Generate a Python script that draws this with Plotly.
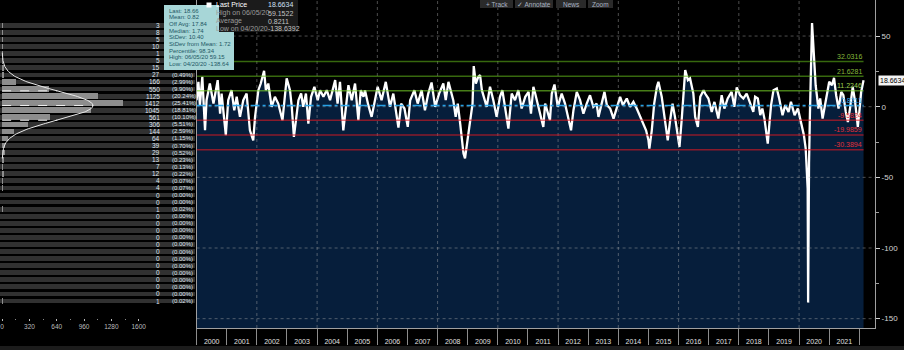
import numpy as np
import plotly.graph_objects as go

W, H = 904, 350
FONT = "Liberation Sans, Arial, sans-serif"

# ---------------- data ----------------
# time series: decimal year, value
T = [2000.00, 2000.06, 2000.11, 2000.19, 2000.28, 2000.33, 2000.44, 2000.56, 2000.70, 2000.78,
     2000.83, 2000.97, 2001.05, 2001.16, 2001.25, 2001.33, 2001.44, 2001.55, 2001.66, 2001.72,
     2001.77, 2001.88, 2001.94, 2002.05, 2002.13, 2002.24, 2002.30, 2002.38, 2002.49, 2002.60,
     2002.71, 2002.85, 2002.91, 2002.99, 2003.10, 2003.16, 2003.23, 2003.30, 2003.38, 2003.47,
     2003.54, 2003.63, 2003.71, 2003.80, 2003.91, 2004.02, 2004.10, 2004.21, 2004.32, 2004.43,
     2004.54, 2004.60, 2004.68, 2004.76, 2004.87, 2004.95, 2005.04, 2005.15, 2005.26, 2005.37,
     2005.45, 2005.54,
     2005.59, 2005.70, 2005.81, 2006.01, 2006.14, 2006.28, 2006.42, 2006.53, 2006.70, 2006.79,
     2006.90, 2007.01, 2007.09, 2007.23, 2007.34, 2007.47, 2007.58, 2007.69, 2007.80, 2007.92,
     2008.05, 2008.19, 2008.27, 2008.36, 2008.45, 2008.52, 2008.60, 2008.67, 2008.75, 2008.80,
     2008.86, 2008.91, 2008.97, 2009.05, 2009.11, 2009.16, 2009.20, 2009.27, 2009.35, 2009.41,
     2009.47, 2009.54, 2009.63, 2009.74, 2009.85, 2009.96, 2010.07, 2010.15, 2010.30, 2010.35,
     2010.46, 2010.57, 2010.68, 2010.79, 2010.91, 2011.02, 2011.10, 2011.18,
     2011.24, 2011.35, 2011.51, 2011.57, 2011.73, 2011.79, 2011.88, 2011.99, 2012.12, 2012.23,
     2012.34, 2012.43, 2012.51, 2012.62, 2012.73, 2012.84, 2012.95, 2013.06, 2013.17, 2013.28,
     2013.34, 2013.45, 2013.54, 2013.62, 2013.73, 2013.84, 2013.95, 2014.06, 2014.15, 2014.28,
     2014.39, 2014.50, 2014.61, 2014.72, 2014.83, 2014.92, 2015.00, 2015.03, 2015.11, 2015.19,
     2015.28, 2015.33, 2015.44, 2015.53, 2015.64, 2015.72, 2015.80, 2015.88, 2015.94, 2016.03,
     2016.11, 2016.22, 2016.31, 2016.38, 2016.49, 2016.55, 2016.64, 2016.72, 2016.83,
     2016.88, 2016.99, 2017.10, 2017.19, 2017.32, 2017.43, 2017.52, 2017.63, 2017.76, 2017.85,
     2017.93, 2018.04, 2018.15, 2018.26, 2018.37, 2018.48, 2018.54, 2018.63, 2018.71, 2018.78,
     2018.85, 2018.90, 2018.96, 2019.02, 2019.07, 2019.15, 2019.26, 2019.34, 2019.45, 2019.54,
     2019.65, 2019.73, 2019.85, 2019.96, 2020.09, 2020.16, 2020.22, 2020.25, 2020.27, 2020.285,
     2020.30, 2020.315, 2020.33, 2020.36, 2020.40, 2020.43, 2020.45, 2020.48, 2020.51, 2020.55,
     2020.59, 2020.64, 2020.70, 2020.78, 2020.84, 2020.92, 2021.00, 2021.09, 2021.16, 2021.23,
     2021.31, 2021.40, 2021.47, 2021.55, 2021.62, 2021.69, 2021.78, 2021.86, 2021.95, 2022.00,
     2022.06, 2022.14]
V = [4.6, 17.6, 1.1, 21.1, -16.7, 4.6, 16.4, 2.2, 18.8, -4.9,
     9.3, -20.2, 4.6, 11.7, -2.5, 7.0, -7.2, 4.6, 9.3, -2.5,
     -16.7, -23.8, -7.2, 11.7, 16.4, 25.4, 11.7, 16.4, -0.1, 7.0,
     2.2, -9.6, 4.6, 20.0, 11.7, -0.1, -21.4, -7.2, 4.6, 9.3,
     -0.1, 9.3, -12.0, 7.0, 14.1, 4.6, 11.7, 7.0, 11.7, 4.6,
     14.1, 18.8, 2.2, 17.6, -16.7, -2.5, 15.2, 4.6, 16.4, -9.6,
     11.7, 7.0,
     11.7, 1.1, -7.2, 14.1, 4.6, 17.6, -0.1, 9.3, -14.8, 2.2,
     -1.3, -14.3, 4.6, 11.7, 2.2, 11.7, -2.5, 9.3, 17.1, -0.1,
     9.3, 16.4, 4.6, 17.6, 9.3, 4.6, -7.2, 2.2, -12.0, -23.8,
     -33.2, -36.5, -27.3, -14.3, -7.2, 2.2, 28.7, 16.4, 21.1, 22.3,
     11.7, 7.0, -0.1, 14.1, 4.6, -7.2, 7.0, 11.7, -7.2, -15.5,
     9.3, 4.6, 11.7, -1.3, 7.0, 10.5, -4.9, 14.1,
     9.3, -1.3, -14.3, 2.2, -9.6, 9.3, 15.7, -0.1, 9.3, 2.2,
     -7.2, -16.7, -2.5, 10.5, 4.6, -4.9, 2.2, 8.1, -0.1, 2.2,
     -7.2, 3.4, 10.5, 1.1, -1.3, -8.4, -1.3, 7.0, 1.1, 5.8,
     -0.1, 3.4, -1.3, -7.2, -12.0, -16.7, -23.8, -29.7, -16.7, 2.2,
     14.1, 17.6, 7.0, -7.2, -23.8, -9.6, 2.2, -7.2, -16.7, -28.5,
     -7.2, 25.9, 18.8, 20.0, 9.3, -7.2, -14.3, 7.0, 11.7,
     9.3, 5.8, -3.7, 3.4, -8.4, 8.1, -1.3, 5.8, 10.5, -0.1,
     13.6, 8.1, 5.8, 9.3, 3.4, -3.7, 7.0, 5.8, -6.0, -1.3,
     -8.4, -16.7, -26.1, -10.8, 1.1, 11.7, 12.9, 5.8, -6.0, 1.1,
     -3.7, 3.4, -6.0, -1.3, -13.1, -20.2, -29.7, -45.0, -52.0, -58.0,
     -138.64, -57.0, -40.0, -5.0, 30.0, 59.15, 52.0, 40.0, 29.0, 15.0,
     8.1, -1.3, 5.8, -8.4, -1.3, 8.1, 17.6, 15.2, 20.4, 8.1,
     -1.3, 10.5, 8.1, -3.7, -10.8, -1.3, 14.1, 3.4, -14.3, -3.7,
     10.5, 18.66]

YEARS = list(range(2000, 2022))
Y_TICKS = [50, 0, -50, -100, -150]
Y_MINOR = [25, -25, -75, -125]

MEAN, SD = 0.8211, 10.4035
LAST = 18.6634

# distribution panel: 5-unit bins, top bin upper edge = 60
BIN_W = 5
BIN_TOP = 60
COUNTS = [3, 8, 5, 10, 1, 5, 15, 27,
          166, 550, 1125, 1412, 1045, 561, 306, 144,
          64, 39, 29, 13, 7, 12, 4, 4,
          0, 0, 1, 0, 0, 0, 0, 0, 0, 0, 0, 0, 0, 0, 0, 1]
HIST_TICKS = [0, 320, 640, 960, 1280, 1600]

STATS_LINES = ["Last: 18.66", "Mean: 0.82", "Off Avg: 17.84", "Median: 1.74",
               "StDev: 10.40", "StDev from Mean: 1.72", "Percentile: 98.34",
               "High: 06/05/20 59.15", "Low: 04/20/20 -138.64"]
LEG_LABELS = ["Last Price", "High on 06/05/20", "Average", "Low on 04/20/20"]
LEG_VALUES = ["18.6634", "59.1522", "0.8211", "-138.6392"]
TOOLBAR = ["+ Track", "\u2713 Annotate", "News", "Zoom"]

# ---------------- layout helpers ----------------
def px(x):
    return x / W

def py(y):
    return 1 - y / H

Y_MIN, Y_MAX = -156.6, 75.5
X0, X1 = 2000.0, 2022.52
YDOM = [py(328), 1.0]
X3_RANGE = [-25, 2260]
BOX_BOTTOM_PX = 70

def val_to_px(v):
    return (Y_MAX - v) / (Y_MAX - Y_MIN) * 328

fig = go.Figure()

# ---- main series with fill to bottom ----
fig.add_trace(go.Scatter(x=[T[0], T[-1]], y=[Y_MIN, Y_MIN], mode="lines",
                         line=dict(width=0, color="rgba(0,0,0,0)"),
                         hoverinfo="skip", showlegend=False))
fig.add_trace(go.Scatter(x=T, y=V, mode="lines", fill="tonexty",
                         fillcolor="#061e3b",
                         line=dict(color="white", width=2.3),
                         showlegend=False))

# ---- histogram panel ----
n = len(COUNTS)
centers = [BIN_TOP - BIN_W / 2 - i * BIN_W for i in range(n)]
total = sum(COUNTS)
fig.add_trace(go.Bar(x=[X3_RANGE[1] - X3_RANGE[0]] * n, base=X3_RANGE[0], y=centers,
                     orientation="h", width=BIN_W * 0.68,
                     marker=dict(color="#313131", line=dict(width=0)),
                     xaxis="x3", yaxis="y2", showlegend=False, hoverinfo="skip"))
fig.add_trace(go.Bar(x=COUNTS, y=centers, orientation="h", width=BIN_W * 0.8,
                     marker=dict(color="#8d8d8d", line=dict(width=0)),
                     xaxis="x3", yaxis="y2", showlegend=False))

gy = np.linspace(MEAN - 3.6 * SD, MEAN + 3.6 * SD, 240)
gx = total * BIN_W * np.exp(-0.5 * ((gy - MEAN) / SD) ** 2) / (SD * np.sqrt(2 * np.pi))
fig.add_trace(go.Scatter(x=gx, y=gy, mode="lines", line=dict(color="#e8e8e8", width=1),
                         xaxis="x3", yaxis="y2", showlegend=False, hoverinfo="skip"))

dx, dy = [], []
for k in (1, 0, -1):
    lv = MEAN + k * SD
    g = total * BIN_W * np.exp(-0.5 * k * k) / (SD * np.sqrt(2 * np.pi))
    dx += [0, g, None]
    dy += [lv, lv, None]
fig.add_trace(go.Scatter(x=dx, y=dy, mode="lines", line=dict(color="#f2f2f2", width=1, dash="dash"),
                         xaxis="x3", yaxis="y2", showlegend=False, hoverinfo="skip"))

annotations = []
shapes = []

for c, cnt in zip(centers, COUNTS):
    annotations.append(dict(xref="paper", yref="y2", x=px(162), y=c, xanchor="right", yanchor="middle",
                            text=str(cnt), showarrow=False,
                            font=dict(size=6.5, color="#dfe5ee", family=FONT)))
    # percentages of the top rows sit underneath the statistics box
    if val_to_px(c) > BOX_BOTTOM_PX + 2:
        annotations.append(dict(xref="paper", yref="y2", x=px(170), y=c, xanchor="left", yanchor="middle",
                                text="(%.2f%%)" % (100.0 * cnt / total), showarrow=False,
                                font=dict(size=6, color="#dfe5ee", family=FONT)))

# ---- grid lines (dotted) ----
for v in Y_TICKS:
    shapes.append(dict(type="line", xref="x domain", yref="y", x0=0, x1=1, y0=v, y1=v,
                       line=dict(color="rgba(170,170,170,0.45)", width=1, dash="dot"), layer="above"))
for yr in YEARS[2::2]:
    shapes.append(dict(type="line", xref="x", yref="paper", x0=yr, x1=yr, y0=YDOM[0], y1=1,
                       line=dict(color="rgba(170,170,170,0.45)", width=1, dash="dot"), layer="above"))

# ---- mean / sigma level lines ----
level_styles = [
    (3, "rgba(100,190,25,0.55)", "#86b83a", "solid"),
    (2, "rgba(100,190,25,0.55)", "#86b83a", "solid"),
    (1, "rgba(120,210,40,0.6)", "#9fd050", "solid"),
    (0, "rgba(40,170,240,0.95)", "#3aa8f0", "dashdot"),
    (-1, "rgba(225,25,35,0.6)", "#e0303a", "solid"),
    (-2, "rgba(225,25,35,0.6)", "#e0303a", "solid"),
    (-3, "rgba(225,25,35,0.6)", "#e0303a", "solid"),
]
for k, lc, tc, dash in level_styles:
    lv = MEAN + k * SD
    shapes.append(dict(type="line", xref="x", yref="y", x0=T[0], x1=T[-1], y0=lv, y1=lv,
                       line=dict(color=lc, width=1.5, dash=dash), layer="above"))
    annotations.append(dict(xref="x", yref="y", x=T[-1], y=lv, xanchor="right", yanchor="middle",
                            yshift=5, text="%.4f" % lv, showarrow=False,
                            font=dict(size=7, color=tc, family=FONT)))

# ---- last value tag on the right axis ----
annotations.append(dict(xref="paper", yref="y", x=px(878), y=LAST, xanchor="left", yanchor="middle",
                        text="%.4f" % LAST, showarrow=False, bgcolor="#f4f4f4", borderpad=1,
                        font=dict(size=7, color="#000000", family=FONT)))

# ---- stats box ----
shapes.append(dict(type="rect", xref="paper", yref="paper", x0=px(164), x1=px(234),
                   y0=py(BOX_BOTTOM_PX), y1=py(5),
                   fillcolor="#a7d6d7", line=dict(width=0), layer="above"))
for i, s in enumerate(STATS_LINES):
    annotations.append(dict(xref="paper", yref="paper", x=px(166.5), y=py(10.5 + i * 6.7),
                            xanchor="left", yanchor="middle", text=s, showarrow=False,
                            font=dict(size=6, color="#1d5665", family=FONT)))
# ---- legend block ----
shapes.append(dict(type="rect", xref="paper", yref="paper", x0=px(219), x1=px(298), y0=py(32), y1=py(0),
                   fillcolor="#1b1b1b", line=dict(width=0), layer="above"))
shapes.append(dict(type="rect", xref="paper", yref="paper", x0=px(206.5), x1=px(211.5), y0=py(7.5), y1=py(2.5),
                   fillcolor="#ffffff", line=dict(width=0), layer="above"))
leg_y = [5, 13, 21, 28.5]
for i, (lab, val) in enumerate(zip(LEG_LABELS, LEG_VALUES)):
    annotations.append(dict(xref="paper", yref="paper", x=px(214), y=py(leg_y[i]), xanchor="left",
                            yanchor="middle", text=lab, showarrow=False,
                            font=dict(size=7, color="#ffffff" if i == 0 else "#9c9c9c", family=FONT)))
    annotations.append(dict(xref="paper", yref="paper", x=px(266), y=py(leg_y[i]), xanchor="left",
                            yanchor="middle", text=val, showarrow=False,
                            font=dict(size=7, color="#cfe0f5" if i == 0 else "#c4c4c4", family=FONT)))

# ---- toolbar buttons at the top ----
tb_x = [(480, 513), (515, 553), (556, 586), (588, 613)]
for (a, b), s in zip(tb_x, TOOLBAR):
    shapes.append(dict(type="rect", xref="paper", yref="paper", x0=px(a), x1=px(b), y0=py(8), y1=py(0),
                       fillcolor="#2a2a2a", line=dict(width=0), layer="above"))
    annotations.append(dict(xref="paper", yref="paper", x=px((a + b) / 2), y=py(4), xanchor="center",
                            yanchor="middle", text=s, showarrow=False,
                            font=dict(size=6.5, color="#a9b3c3", family=FONT)))

# ---- bottom strip ----
shapes.append(dict(type="rect", xref="paper", yref="paper", x0=0, x1=1, y0=0, y1=py(346),
                   fillcolor="#1c1c1c", line=dict(width=0), layer="above"))

fig.update_layout(
    width=W, height=H, margin=dict(l=0, r=0, t=0, b=0), autosize=False,
    paper_bgcolor="#000000", plot_bgcolor="#000000",
    barmode="overlay", bargap=0, showlegend=False,
    font=dict(family=FONT, color="#d0d0d0"),
    xaxis=dict(domain=[px(196.6), px(875)], range=[X0, X1], anchor="y",
               tickmode="array", tickvals=[y + 0.5 for y in YEARS], ticktext=[str(y) for y in YEARS],
               ticks="outside", ticklen=7, tickcolor="rgba(0,0,0,0)",
               tickfont=dict(size=7, color="#e0e0e0", family=FONT),
               showgrid=False, zeroline=False, showline=True, linecolor="#a0a0a0", linewidth=1,
               minor=dict(tickmode="array", tickvals=YEARS + [YEARS[-1] + 1], ticks="outside",
                          ticklen=16, tickcolor="#8c8c8c", tickwidth=1, showgrid=False)),
    yaxis=dict(domain=YDOM, range=[Y_MIN, Y_MAX], side="right", anchor="x",
               tickmode="array", tickvals=Y_TICKS, ticktext=[str(v) for v in Y_TICKS],
               ticks="outside", ticklen=4, tickcolor="#d0d0d0",
               tickfont=dict(size=8, color="#d4d4d4", family=FONT),
               showgrid=False, zeroline=False, showline=True, linecolor="#a0a0a0", linewidth=1, mirror=True,
               minor=dict(tickmode="array", tickvals=Y_MINOR, ticks="outside", ticklen=3,
                          tickcolor="#a0a0a0", showgrid=False)),
    xaxis3=dict(domain=[0, px(195)], range=X3_RANGE, anchor="free", position=py(318),
                tickmode="array", tickvals=HIST_TICKS, ticktext=[str(v) for v in HIST_TICKS],
                ticks="outside", ticklen=2, tickcolor="#bbbbbb",
                tickfont=dict(size=6.5, color="#bbbbbb", family=FONT),
                showgrid=False, zeroline=False, showline=False,
                minor=dict(tickmode="array", tickvals=[v + 160 for v in HIST_TICKS[:-1]],
                           ticks="outside", ticklen=1, tickcolor="#888888", showgrid=False)),
    yaxis2=dict(domain=YDOM, range=[Y_MIN, Y_MAX], anchor="x3", visible=False,
                showgrid=False, zeroline=False),
    annotations=annotations, shapes=shapes,
)

fig.write_html("out.html")
